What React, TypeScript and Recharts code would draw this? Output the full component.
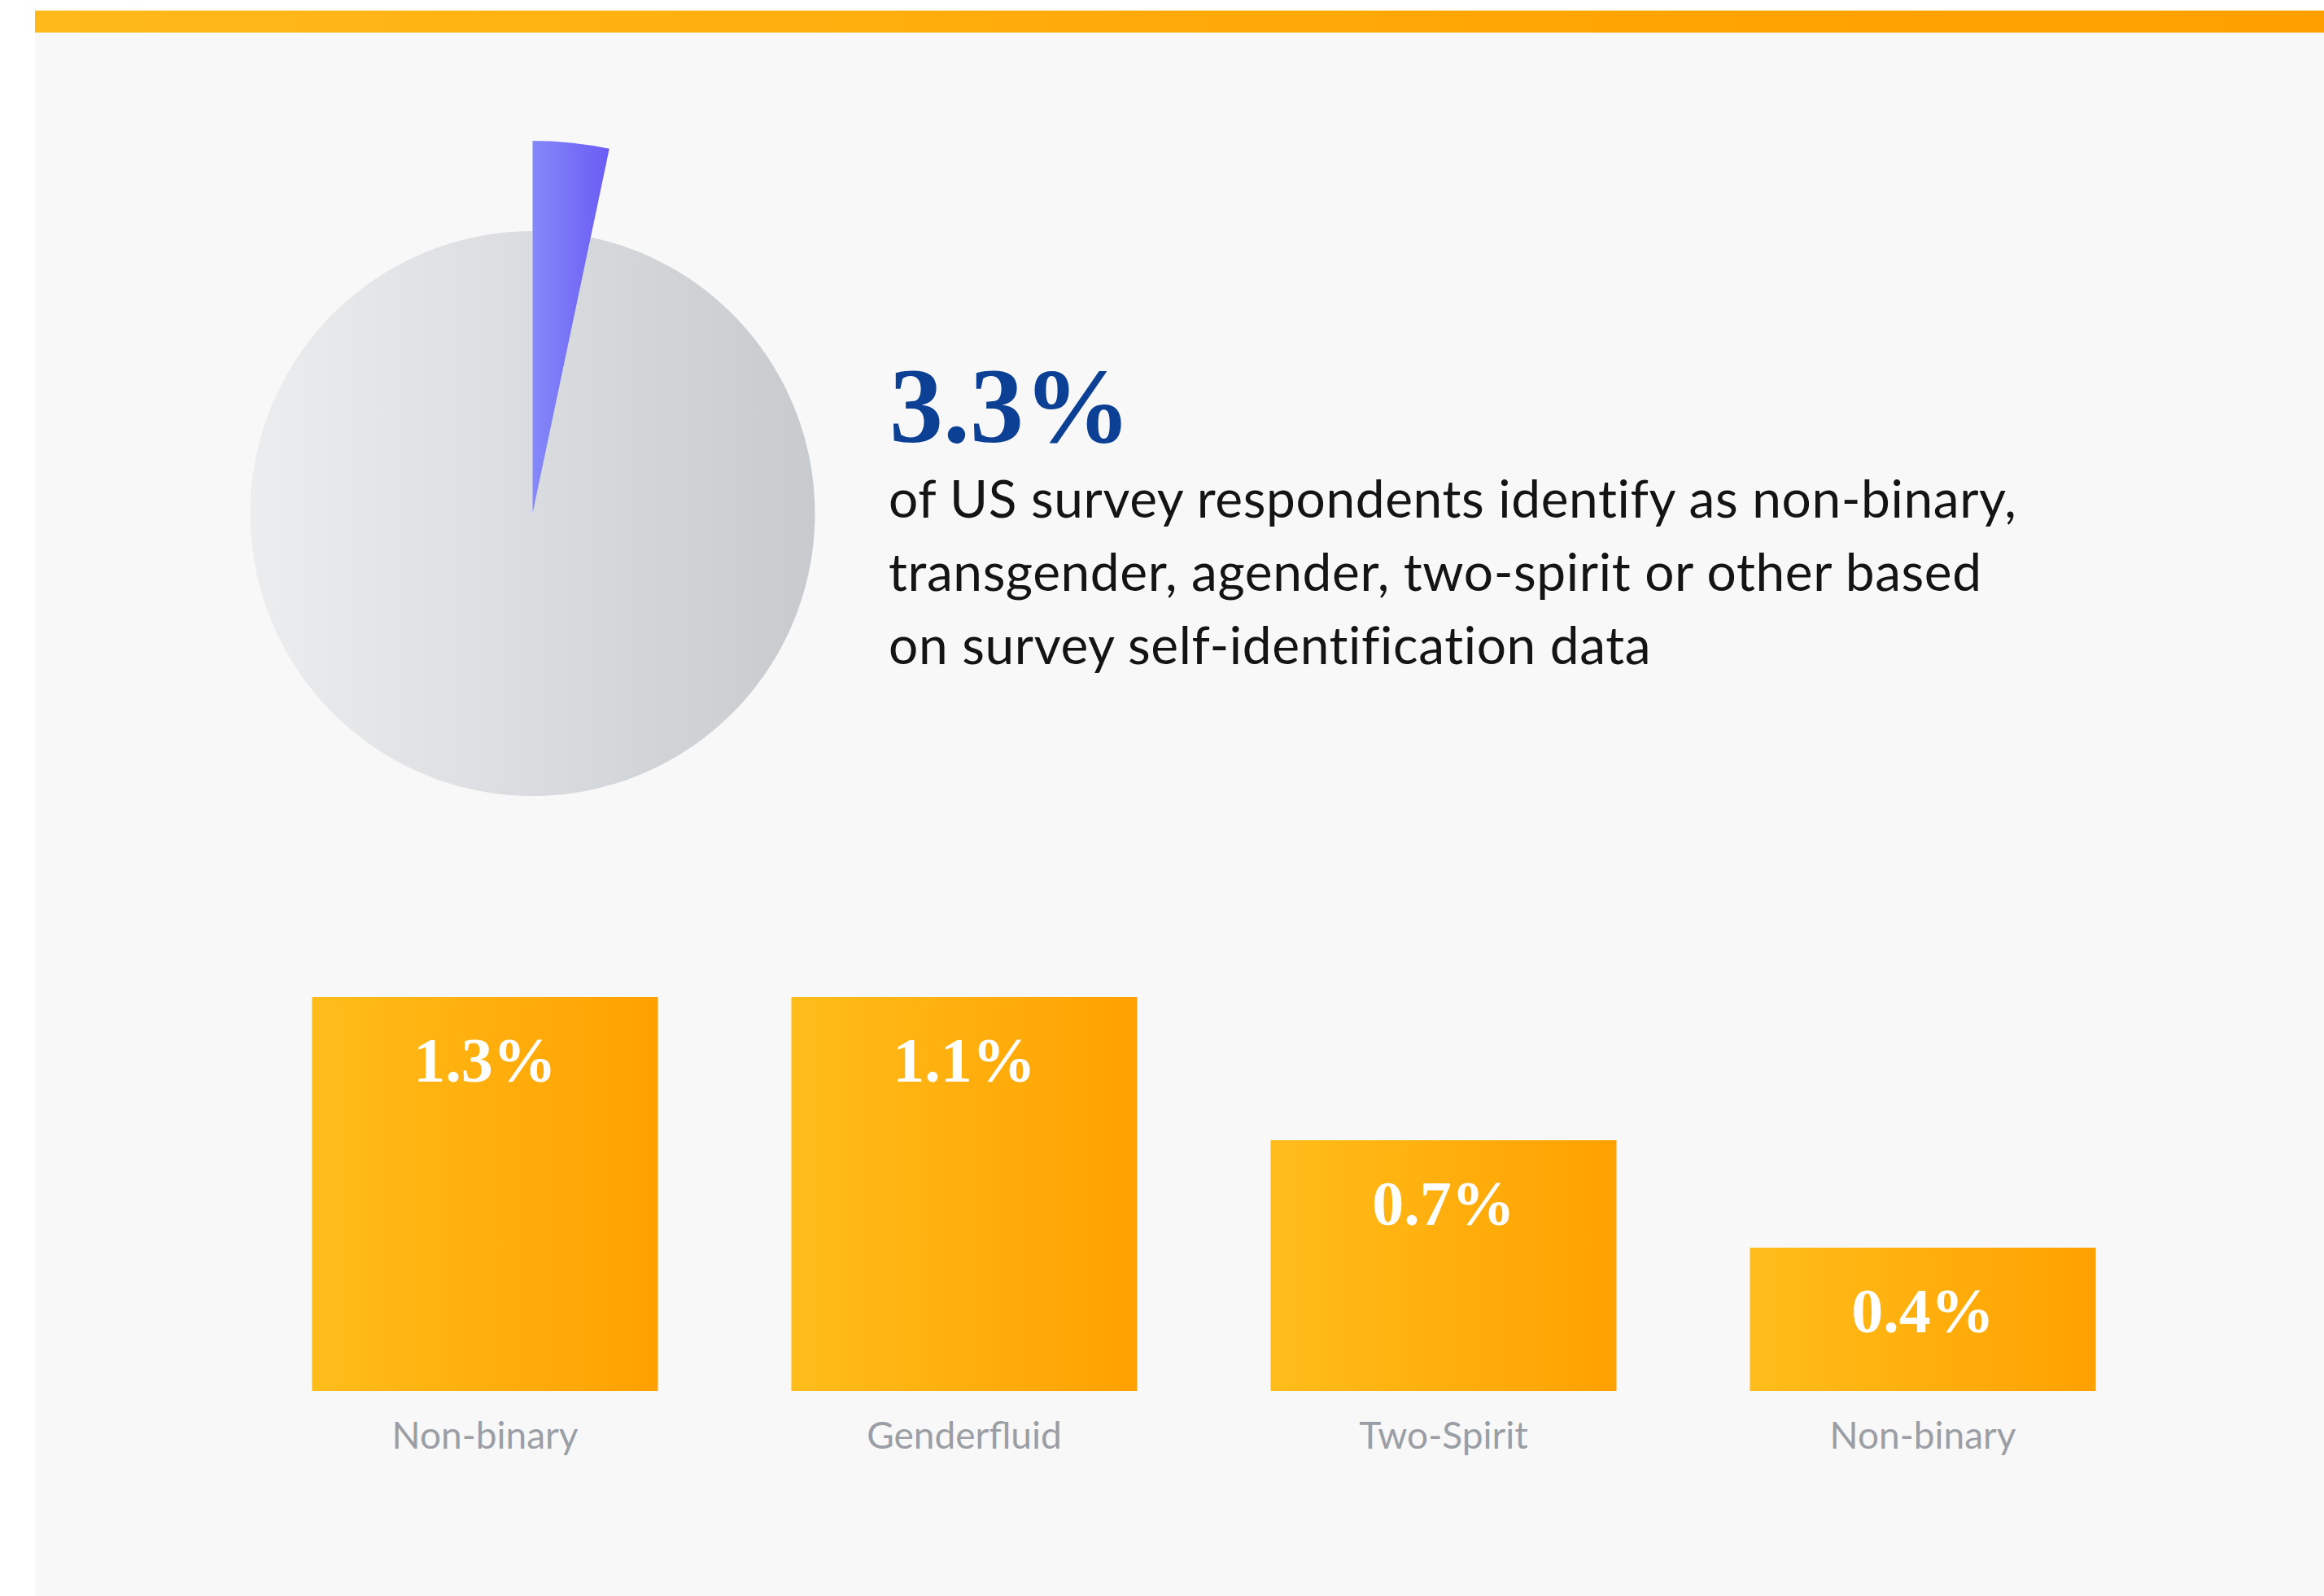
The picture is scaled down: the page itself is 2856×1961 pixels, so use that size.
import React from 'react';
import { PieChart, Pie, Cell, BarChart, Bar, XAxis, YAxis, LabelList } from 'recharts';

// share of respondents (pie)
const shareNames = ['Non-binary, transgender, agender, two-spirit or other', 'Other respondents'];
const shareValues = [3.3, 96.7];

// breakdown (bars)
const categories = ['Non-binary', 'Genderfluid', 'Two-Spirit', 'Non-binary'];
const percents = [1.3, 1.1, 0.7, 0.4];
const Y_MAX = 1.1; // the first bar is capped at this height in the original

const headline = '3.3%';
const bodyLines = [
  'of US survey respondents identify as non-binary,',
  'transgender, agender, two-spirit or other based',
  'on survey self-identification data',
];

const shareData = shareNames.map((name, i) => ({ name, value: shareValues[i] }));
const barData = categories.map((name, i) => ({ id: i, name, value: percents[i] }));

const SANS = 'Lato, "Open Sans", sans-serif';
const SERIF = '"Liberation Serif", "DejaVu Serif", serif';
const PLOT_TOP = 125;

const CategoryTick = (props: any) => {
  const { x, y, payload } = props;
  return (
    <text x={x} y={y + 71} textAnchor="middle" fill="#9b9fa5" fontSize={46} fontFamily={SANS}>
      {categories[payload.value]}
    </text>
  );
};

const ValueLabel = (props: any) => {
  const { x, y, width, value } = props;
  const top = Math.max(Number(y), PLOT_TOP);
  return (
    <text
      x={Number(x) + Number(width) / 2}
      y={top + 104}
      textAnchor="middle"
      fill="#ffffff"
      fontSize={78}
      fontWeight="bold"
      fontFamily={SERIF}
    >
      {`${value}%`}
    </text>
  );
};

export default function App() {
  return (
    <div
      style={{
        position: 'absolute',
        left: 0,
        top: 0,
        width: 2856,
        height: 1961,
        background: '#ffffff',
        overflow: 'hidden',
      }}
    >
      {/* panel */}
      <div style={{ position: 'absolute', left: 43, top: 40, right: 0, bottom: 0, background: '#f8f8f8' }} />
      {/* top accent bar */}
      <div
        style={{
          position: 'absolute',
          left: 43,
          top: 13,
          right: 0,
          height: 27,
          background: 'linear-gradient(90deg, #ffb91a 0%, #ffa403 70%, #ffa000 100%)',
        }}
      />

      {/* pie */}
      <div style={{ position: 'absolute', left: 104, top: 81 }}>
        <PieChart width={1100} height={1100}>
          <defs>
            <linearGradient id="greyGrad" x1="0" y1="0" x2="1" y2="0">
              <stop offset="0%" stopColor="#ecedef" />
              <stop offset="100%" stopColor="#c7cbce" />
            </linearGradient>
            <linearGradient id="blueGrad" x1="0" y1="0" x2="1" y2="0">
              <stop offset="0%" stopColor="#8589f8" />
              <stop offset="100%" stopColor="#6a5bf5" />
            </linearGradient>
          </defs>
          <Pie
            data={shareData}
            dataKey="value"
            nameKey="name"
            cx={545.5}
            cy={545}
            outerRadius={347}
            startAngle={90}
            endAngle={-270}
            stroke="none"
            isAnimationActive={false}
          >
            <Cell fill="transparent" />
            <Cell fill="url(#greyGrad)" />
          </Pie>
          <Pie
            data={shareData}
            dataKey="value"
            nameKey="name"
            cx={545.5}
            cy={545}
            outerRadius={458}
            startAngle={90}
            endAngle={-270}
            stroke="none"
            isAnimationActive={false}
          >
            <Cell fill="url(#blueGrad)" />
            <Cell fill="transparent" />
          </Pie>
        </PieChart>
      </div>

      {/* headline */}
      <div
        style={{
          position: 'absolute',
          left: 1093,
          top: 433,
          fontFamily: SERIF,
          fontWeight: 'bold',
          fontSize: 132,
          lineHeight: '132px',
          color: '#0c4095',
          whiteSpace: 'nowrap',
        }}
      >
        {headline}
      </div>
      <div
        style={{
          position: 'absolute',
          left: 1092,
          top: 567,
          fontFamily: SANS,
          fontSize: 64,
          lineHeight: '90px',
          letterSpacing: 0.6,
          color: '#141414',
          whiteSpace: 'nowrap',
        }}
      >
        {bodyLines.map((l, i) => (
          <div key={i}>{l}</div>
        ))}
      </div>

      {/* bars */}
      <div style={{ position: 'absolute', left: 0, top: 1100 }}>
        <BarChart
          width={2856}
          height={800}
          data={barData}
          margin={{ top: PLOT_TOP, right: 198.5, bottom: 111, left: 301.5 }}
        >
          <defs>
            <linearGradient id="barGrad" x1="0" y1="0" x2="1" y2="0">
              <stop offset="0%" stopColor="#ffbd1b" />
              <stop offset="100%" stopColor="#ffa100" />
            </linearGradient>
          </defs>
          <XAxis
            dataKey="id"
            type="category"
            axisLine={false}
            tickLine={false}
            tickSize={0}
            tickMargin={0}
            height={80}
            interval={0}
            tick={<CategoryTick />}
          />
          <YAxis hide domain={[0, Y_MAX]} allowDataOverflow />
          <Bar dataKey="value" fill="url(#barGrad)" barSize={425} isAnimationActive={false}>
            <LabelList dataKey="value" content={<ValueLabel />} />
          </Bar>
        </BarChart>
      </div>
    </div>
  );
}
